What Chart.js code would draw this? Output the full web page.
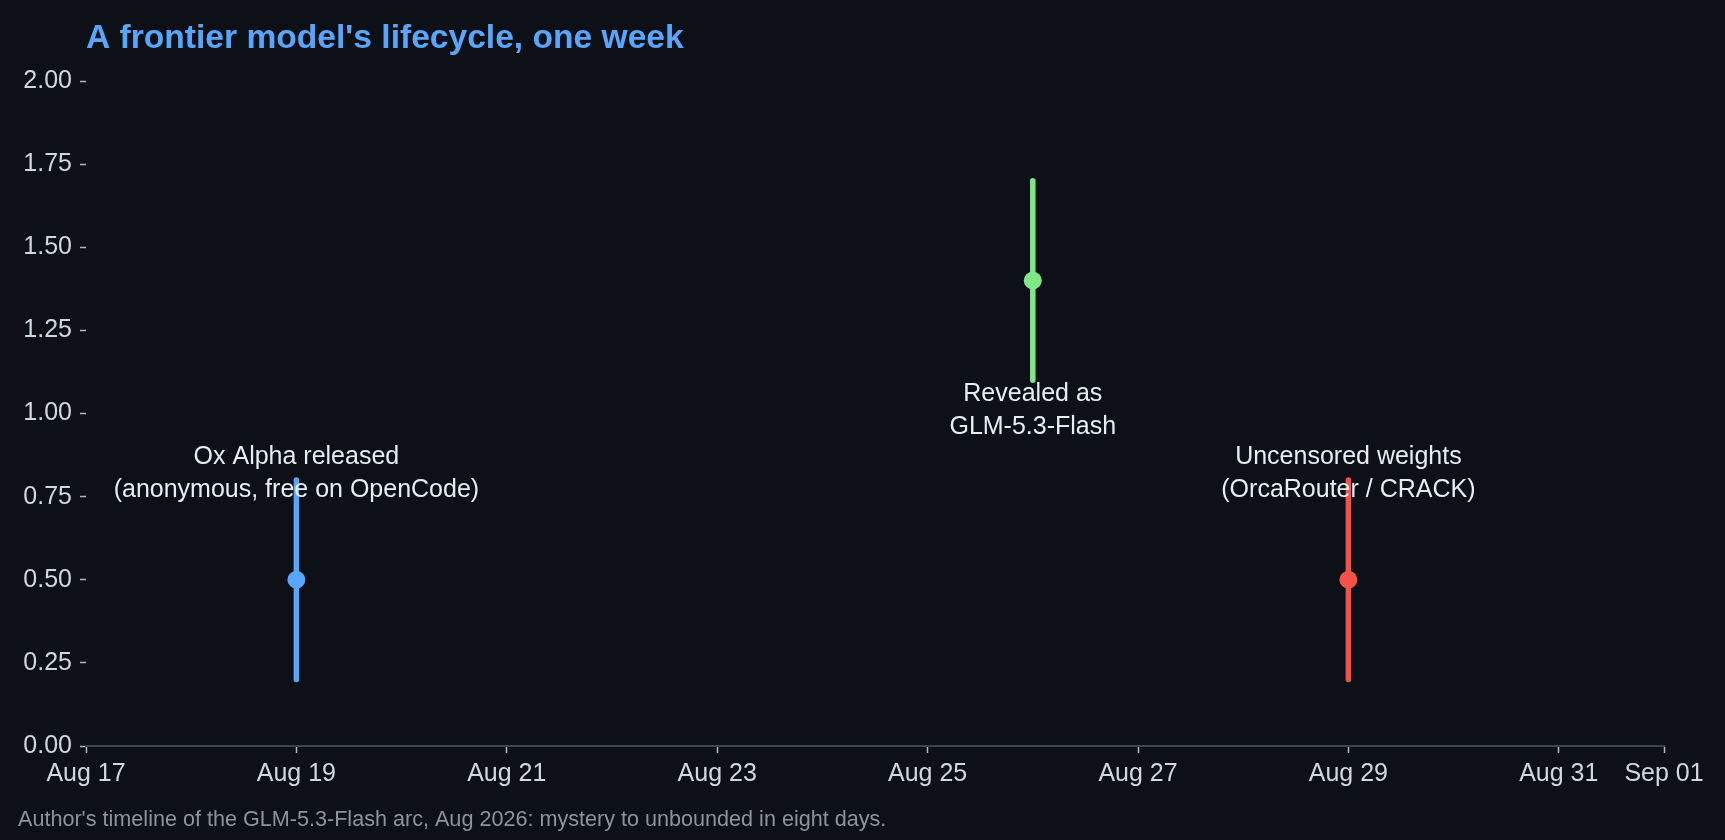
<!DOCTYPE html>
<html>
<head>
<meta charset="utf-8">
<title>A frontier model's lifecycle, one week</title>
<script src="https://cdn.jsdelivr.net/npm/chart.js@4.4.1/dist/chart.umd.min.js"></script>
<style>
    html, body { margin: 0; padding: 0; background: #0d1117; }
    #wrap { width: 1725px; height: 840px; position: relative; }
</style>
</head>
<body>
<div id="wrap"><canvas id="lifecycleChart"></canvas></div>
<script>
// days counted from Aug 17
const tickDays = [0, 2, 4, 6, 8, 10, 12, 14, 15];
const tickLabels = ['Aug 17', 'Aug 19', 'Aug 21', 'Aug 23', 'Aug 25', 'Aug 27', 'Aug 29', 'Aug 31', 'Sep 01'];

const eventDays = [2, 9, 12];
const eventMid = [0.5, 1.4, 0.5];
const eventLow = [0.2, 1.1, 0.2];
const eventHigh = [0.8, 1.7, 0.8];
const eventText = [
    ['Ox Alpha released', '(anonymous, free on OpenCode)'],
    ['Revealed as', 'GLM-5.3-Flash'],
    ['Uncensored weights', '(OrcaRouter / CRACK)']
];
const eventTextY = [0.818, 1.01, 0.818];

const eventColors = ['#58a6ff', '#7ee787', '#f85149'];
const FONT = "'Liberation Sans', Arial, Helvetica, sans-serif";

const datasets = [];
eventDays.forEach((d, i) => {
    datasets.push({
        type: 'scatter',
        showLine: true,
        data: [{ x: d, y: eventLow[i] }, { x: d, y: eventHigh[i] }],
        borderColor: eventColors[i],
        borderWidth: 5.5,
        borderCapStyle: 'round',
        pointRadius: 0
    });
});
eventDays.forEach((d, i) => {
    datasets.push({
        type: 'scatter',
        data: [{ x: d, y: eventMid[i] }],
        backgroundColor: eventColors[i],
        borderWidth: 0,
        pointRadius: 9
    });
});

const backdrop = {
    id: 'backdrop',
    beforeDraw(chart) {
        const ctx = chart.ctx;
        ctx.save();
        ctx.fillStyle = '#0d1117';
        ctx.fillRect(0, 0, chart.width, chart.height);
        ctx.restore();
    }
};

const labelsAndTitles = {
    id: 'labelsAndTitles',
    afterDatasetsDraw(chart) {
        const ctx = chart.ctx;
        const xs = chart.scales.x, ys = chart.scales.y;
        ctx.save();
        ctx.fillStyle = '#e6edf3';
        ctx.font = '25px ' + FONT;
        ctx.textAlign = 'center';
        ctx.textBaseline = 'middle';
        const lineH = 33;
        eventText.forEach((lines, i) => {
            const px = xs.getPixelForValue(eventDays[i]);
            const py = ys.getPixelForValue(eventTextY[i]);
            const top = py - (lines.length - 1) * lineH / 2;
            lines.forEach((t, k) => ctx.fillText(t, px, top + k * lineH));
        });

        // title
        ctx.textAlign = 'left';
        ctx.textBaseline = 'alphabetic';
        ctx.fillStyle = '#58a6ff';
        ctx.font = 'bold 33.6px ' + FONT;
        ctx.fillText("A frontier model's lifecycle, one week", chart.chartArea.left, 48);

        // footnote
        ctx.fillStyle = '#8b949e';
        ctx.font = '21.6px ' + FONT;
        ctx.fillText("Author's timeline of the GLM-5.3-Flash arc, Aug 2026: mystery to unbounded in eight days.", 18, 826);
        ctx.restore();
    }
};

new Chart(document.getElementById('lifecycleChart'), {
    type: 'scatter',
    data: { datasets: datasets },
    options: {
        responsive: true,
        maintainAspectRatio: false,
        devicePixelRatio: 1,
        animation: false,
        layout: { padding: { top: 81, right: 61, bottom: 34, left: 0 } },
        plugins: {
            legend: { display: false },
            tooltip: { enabled: false },
            title: { display: false }
        },
        scales: {
            x: {
                type: 'linear',
                min: 0,
                max: 15,
                afterBuildTicks(scale) {
                    scale.ticks = tickDays.map(v => ({ value: v }));
                },
                afterFit(scale) { scale.height = 60; },
                ticks: {
                    autoSkip: false,
                    maxRotation: 0,
                    color: '#d0d7de',
                    padding: 6,
                    font: { family: FONT, size: 25 },
                    callback: function (value) {
                        const idx = tickDays.indexOf(value);
                        return idx >= 0 ? tickLabels[idx] : '';
                    }
                },
                grid: {
                    drawOnChartArea: false,
                    drawTicks: true,
                    tickLength: 7,
                    tickWidth: 1.5,
                    tickColor: '#b1bac4'
                },
                border: { display: true, color: '#3d444d', width: 2 }
            },
            y: {
                min: 0,
                max: 2,
                afterFit(scale) { scale.width = 86; },
                ticks: {
                    stepSize: 0.25,
                    color: '#d0d7de',
                    padding: 8,
                    font: { family: FONT, size: 25 },
                    callback: v => v.toFixed(2)
                },
                grid: {
                    drawOnChartArea: false,
                    drawTicks: true,
                    tickLength: 6,
                    tickWidth: 1.5,
                    tickColor: '#b1bac4'
                },
                border: { display: false }
            }
        }
    },
    plugins: [backdrop, labelsAndTitles]
});
</script>
</body>
</html>
